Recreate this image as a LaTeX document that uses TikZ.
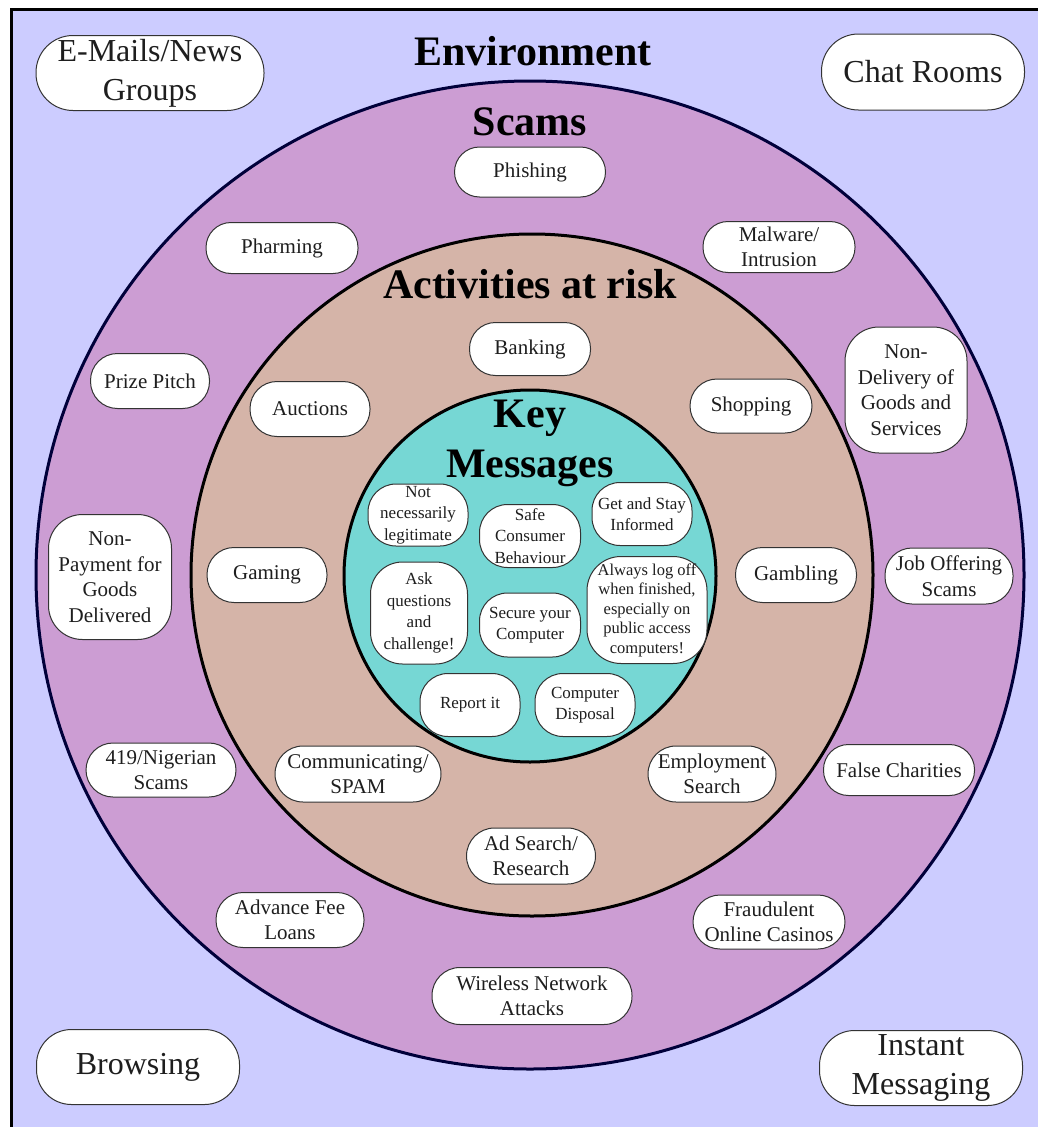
\documentclass[tikz,border=0pt]{standalone}
\usepackage{fontspec}
\setmainfont{Liberation Serif}
\definecolor{envfill}{HTML}{CCCCFF}
\definecolor{scamfill}{HTML}{CC9DD3}
\definecolor{riskfill}{HTML}{D5B4A8}
\definecolor{keyfill}{HTML}{76D7D4}
\definecolor{scamline}{HTML}{00003A}
\definecolor{pillline}{HTML}{333333}
\definecolor{labeltext}{HTML}{1E1E1E}
\tikzset{
  pill/.style={draw=pillline, fill=white, line width=1pt, rounded corners=#1,
    align=center, inner sep=0pt, text=labeltext},
  pill/.default=25pt,
  envtext/.style={font=\fontsize{32}{39}\selectfont},
  ringtext/.style={font=\fontsize{21}{25.5}\selectfont},
  keytext/.style={font=\fontsize{17}{21.5}\selectfont},
  title/.style={font=\fontsize{42}{50}\selectfont\bfseries, text=black, inner sep=0pt, anchor=base, align=center},
}
\begin{document}
\begin{tikzpicture}[x=1pt,y=-1pt]
\useasboundingbox (0,0) rectangle (1038,1127);
\clip (0,0) rectangle (1038,1127);

% page frame
\fill[envfill] (11,9) rectangle (1045,1135);
\draw[line width=3pt] (11,1140) -- (11,9) -- (1050,9);

% nested rings
\draw[fill=scamfill, draw=scamline, line width=3pt] (530,575) circle (494);
\draw[fill=riskfill, draw=black, line width=3pt] (532,575) circle (341);
\draw[fill=keyfill, draw=black, line width=3pt] (530,576) circle (186);

% titles
\node[title] (tenv) at (533,65) {Environment};
\node[title] (tscam) at (530,135) {Scams};
\node[title] (trisk) at (530,298) {Activities at risk};
\node[title] (tkey) at (530,427) {Key};
\node[title] (tmsg) at (530,477) {Messages};

% environment
\node[pill=37pt, envtext, minimum width=228, minimum height=75] (email) at (150,73) {E-Mails/News\\Groups};
\node[pill=37pt, envtext, minimum width=203, minimum height=76] (chat) at (923,72) {Chat Rooms};
\node[pill=35pt, envtext, minimum width=203, minimum height=75] (browse) at (138,1067) {Browsing};
\node[pill=35pt, envtext, minimum width=203, minimum height=75] (im) at (921,1068) {Instant\\Messaging};

% scams
\node[pill, ringtext, minimum width=151, minimum height=50] (phish) at (530,172) {Phishing};
\node[pill, ringtext, minimum width=152, minimum height=51] (pharm) at (282,248) {Pharming};
\node[pill, ringtext, minimum width=152, minimum height=51] (malware) at (779,247) {Malware/\\Intrusion};
\node[pill=27pt, ringtext, minimum width=119, minimum height=55] (prize) at (150,381) {Prize Pitch};
\node[pill=34pt, ringtext, minimum width=122, minimum height=126] (nondel) at (906,390) {Non-\\Delivery of\\Goods and\\Services};
\node[pill=34pt, ringtext, minimum width=123, minimum height=125] (nonpay) at (110,577) {Non-\\Payment for\\Goods\\Delivered};
\node[pill=27pt, ringtext, minimum width=128, minimum height=56] (job) at (949,576) {Job Offering\\Scams};
\node[pill=27pt, ringtext, minimum width=150, minimum height=54] (nigeria) at (161,770) {419/Nigerian\\Scams};
\node[pill, ringtext, minimum width=151, minimum height=51] (charity) at (899,770) {False Charities};
\node[pill=27pt, ringtext, minimum width=148, minimum height=55] (advfee) at (290,920) {Advance Fee\\Loans};
\node[pill=27pt, ringtext, minimum width=152, minimum height=54] (casino) at (769,922) {Fraudulent\\Online Casinos};
\node[pill=28pt, ringtext, minimum width=200, minimum height=57] (wireless) at (532,996) {Wireless Network\\Attacks};

% activities at risk
\node[pill=26pt, ringtext, minimum width=121, minimum height=53] (bank) at (530,349) {Banking};
\node[pill=27pt, ringtext, minimum width=120, minimum height=55] (auction) at (310,409) {Auctions};
\node[pill=27pt, ringtext, minimum width=122, minimum height=54] (shop) at (751,406) {Shopping};
\node[pill=27pt, ringtext, minimum width=120, minimum height=55] (gaming) at (267,575) {Gaming};
\node[pill=27pt, ringtext, minimum width=121, minimum height=55] (gamble) at (796,575) {Gambling};
\node[pill=28pt, ringtext, minimum width=166, minimum height=56] (spam) at (358,774) {Communicating/\\SPAM};
\node[pill=28pt, ringtext, minimum width=128, minimum height=56] (employ) at (712,774) {Employment\\Search};
\node[pill=28pt, ringtext, minimum width=129, minimum height=56] (adsearch) at (531,856) {Ad Search/\\Research};

% key messages
\node[pill=28pt, keytext, minimum width=100, minimum height=62] (legit) at (418,515) {Not\\necessarily\\legitimate};
\node[pill=28pt, keytext, minimum width=101, minimum height=63] (safe) at (530,536) {Safe\\Consumer\\Behaviour};
\node[pill=28pt, keytext, minimum width=100, minimum height=63] (inform) at (642,514) {Get and Stay\\Informed};
\node[pill=32pt, keytext, minimum width=97, minimum height=102] (ask) at (419,613) {Ask\\questions\\and\\challenge!};
\node[pill=28pt, keytext, minimum width=101, minimum height=64] (secure) at (530,625) {Secure your\\Computer};
\node[pill=34pt, keytext, font=\fontsize{16.5}{19.5}\selectfont, minimum width=120, minimum height=107] (logoff) at (647,610) {Always log off\\when finished,\\especially on\\public access\\computers!};
\node[pill=28pt, keytext, minimum width=100, minimum height=63] (report) at (470,705) {Report it};
\node[pill=28pt, keytext, minimum width=100, minimum height=63] (dispose) at (585,705) {Computer\\Disposal};
\end{tikzpicture}
\end{document}
